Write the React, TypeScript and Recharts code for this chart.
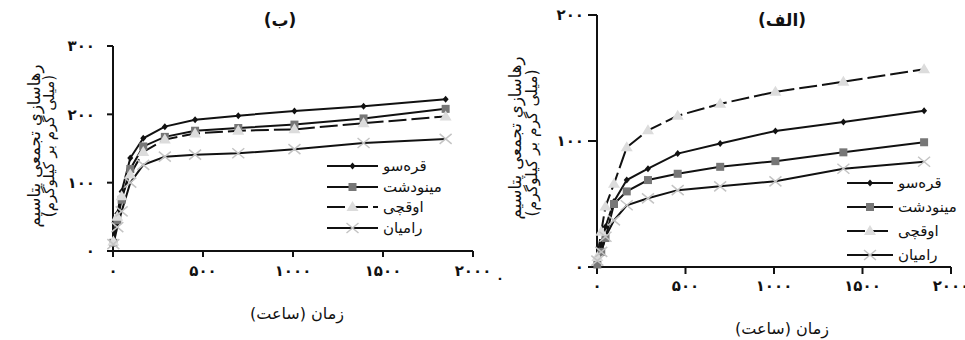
import React from "react";
import { LineChart, Line, XAxis, YAxis } from "recharts";

// sampling times (hours)
const hours = [2, 24, 48, 96, 168, 288, 456, 696, 1008, 1392, 1848];
const seriesNames = ["قره‌سو", "مینودشت", "اوقچی", "رامیان"];

// panel (ب)
const qarehsuB = [15, 55, 87, 136, 165, 182, 192, 198, 205, 212, 222];
const minudashtB = [12, 45, 75, 120, 153, 167, 176, 180, 185, 194, 208];
const oghchiB = [14, 50, 80, 112, 145, 163, 172, 176, 178, 187, 197];
const ramianB = [10, 35, 58, 100, 126, 138, 141, 143, 149, 158, 164];

// panel (الف)
const qarehsuA = [3, 18, 32, 52, 69, 78, 90, 98, 108, 115, 124];
const minudashtA = [2, 12, 23, 50, 60, 69, 74, 79.5, 84, 91, 99];
const oghchiA = [8, 28, 48, 66, 95, 108.5, 120, 129.5, 139, 147, 157];
const ramianA = [5, 12, 24, 37, 49, 54.5, 61, 64, 68, 78, 83.5];

const xTicks = [0, 500, 1000, 1500, 2000];
const yTicksB = [0, 100, 200, 300];
const yTicksA = [0, 100, 200];

const FONT = "'DejaVu Sans', sans-serif";
const kinds = ["diamond", "square", "triangle", "cross"];

const fa = (n: number) => String(n).replace(/\d/g, (d) => "۰۱۲۳۴۵۶۷۸۹"[Number(d)]);

function buildRows(a: number[], b: number[], c: number[], d: number[]) {
  return hours.map((t, i) => ({ t, s0: a[i], s1: b[i], s2: c[i], s3: d[i] }));
}

const dataB = buildRows(qarehsuB, minudashtB, oghchiB, ramianB);
const dataA = buildRows(qarehsuA, minudashtA, oghchiA, ramianA);

function Marker({ kind, cx, cy }: { kind: string; cx?: number; cy?: number }) {
  if (cx == null || cy == null) return null;
  if (kind === "diamond")
    return <path d={`M${cx},${cy - 3.5}L${cx + 3},${cy}L${cx},${cy + 3.5}L${cx - 3},${cy}Z`} fill="#111" />;
  if (kind === "square") return <rect x={cx - 4} y={cy - 4} width={8} height={8} fill="#777" />;
  if (kind === "triangle")
    return <path d={`M${cx},${cy - 6}L${cx + 6},${cy + 4}L${cx - 6},${cy + 4}Z`} fill="#dcdcdc" />;
  return (
    <path
      d={`M${cx - 6},${cy - 5}L${cx + 6},${cy + 5}M${cx - 6},${cy + 5}L${cx + 6},${cy - 5}`}
      stroke="#c4c4c4"
      strokeWidth={1.5}
      fill="none"
    />
  );
}

function LegendBox({ left, top, lineW, rowH }: { left: number; top: number; lineW: number; rowH: number }) {
  return (
    <div style={{ position: "absolute", left, top, fontFamily: FONT, fontSize: 15 }}>
      {seriesNames.map((name, i) => (
        <div key={name} style={{ display: "flex", alignItems: "center", height: rowH }}>
          <svg width={lineW} height={14} style={{ display: "block" }}>
            <line
              x1={0}
              x2={lineW}
              y1={7}
              y2={7}
              stroke="#111"
              strokeWidth={2}
              strokeDasharray={kinds[i] === "triangle" ? "18 5" : undefined}
            />
            <Marker kind={kinds[i]} cx={lineW / 2} cy={7} />
          </svg>
          <span dir="rtl" style={{ marginLeft: 5, color: "#111" }}>{name}</span>
        </div>
      ))}
    </div>
  );
}

interface PanelProps {
  data: any[];
  yTicks: number[];
  width: number;
  margin: { top: number; right: number; bottom: number; left: number };
  yTickSize: number;
  yTickMargin: number;
  xTickSize: number;
  xTickMargin: number;
}

function Panel(p: PanelProps) {
  const tick = { fill: "#111", fontSize: 15, fontWeight: 700, fontFamily: FONT };
  return (
    <LineChart width={p.width} height={340} data={p.data} margin={p.margin}>
      <XAxis
        dataKey="t"
        type="number"
        domain={[0, 2000]}
        ticks={xTicks}
        tickFormatter={fa}
        stroke="#111"
        strokeWidth={2}
        tickSize={p.xTickSize}
        tickMargin={p.xTickMargin}
        height={30}
        tick={tick}
        interval={0}
      />
      <YAxis
        type="number"
        domain={[0, p.yTicks[p.yTicks.length - 1]]}
        ticks={p.yTicks}
        tickFormatter={fa}
        stroke="#111"
        strokeWidth={2}
        tickSize={p.yTickSize}
        tickMargin={p.yTickMargin}
        width={40}
        tick={tick}
        interval={0}
      />
      {kinds.map((k, i) => (
        <Line
          key={k}
          dataKey={`s${i}`}
          name={seriesNames[i]}
          type="linear"
          stroke="#111"
          strokeWidth={2}
          strokeDasharray={k === "triangle" ? "18 5" : undefined}
          dot={(d: any) => <Marker key={`${k}-${d.index}`} kind={k} cx={d.cx} cy={d.cy} />}
          activeDot={false}
          isAnimationActive={false}
        />
      ))}
    </LineChart>
  );
}

function Txt({ x, y, children, size = 14, bold = false, rotate = false }: any) {
  return (
    <div
      dir="rtl"
      style={{
        position: "absolute",
        left: x,
        top: y,
        transform: `translate(-50%, -50%)${rotate ? " rotate(-90deg)" : ""}`,
        whiteSpace: "nowrap",
        fontFamily: FONT,
        fontSize: size,
        fontWeight: bold ? 700 : 400,
        color: "#111",
      }}
    >
      {children}
    </div>
  );
}

export default function App() {
  return (
    <div style={{ position: "absolute", left: 0, top: 0, width: 965, height: 340, background: "#fff", overflow: "hidden" }}>
      <div style={{ position: "absolute", left: 0, top: 0 }}>
        <Panel
          data={dataB}
          yTicks={yTicksB}
          width={490}
          margin={{ top: 46, right: 17, bottom: 59, left: 73 }}
          yTickSize={6}
          yTickMargin={12}
          xTickSize={6}
          xTickMargin={8}
        />
      </div>
      <div style={{ position: "absolute", left: 480, top: 0 }}>
        <Panel
          data={dataA}
          yTicks={yTicksA}
          width={485}
          margin={{ top: 15, right: 14, bottom: 43, left: 77 }}
          yTickSize={9}
          yTickMargin={4}
          xTickSize={7}
          xTickMargin={6}
        />
      </div>

      <LegendBox left={327} top={156} lineW={51} rowH={20.5} />
      <LegendBox left={847} top={171} lineW={46} rowH={24} />

      <Txt x={280} y={20} size={17} bold>(ب)</Txt>
      <Txt x={782} y={20} size={17} bold>(الف)</Txt>
      <Txt x={297} y={313} size={16}>زمان (ساعت)</Txt>
      <Txt x={782} y={328} size={16}>زمان (ساعت)</Txt>

      <Txt x={34} y={146} size={16.5} rotate>رهاسازی تجمعی پتاسیم</Txt>
      <Txt x={49} y={146} size={15} rotate>(میلی گرم بر کیلوگرم)</Txt>
      <Txt x={515} y={138} size={16.5} rotate>رهاسازی تجمعی پتاسیم</Txt>
      <Txt x={532} y={143} size={15.5} rotate>(میلی گرم بر کیلوگرم)</Txt>

      <Txt x={500} y={278} size={13} bold>۰</Txt>
    </div>
  );
}
